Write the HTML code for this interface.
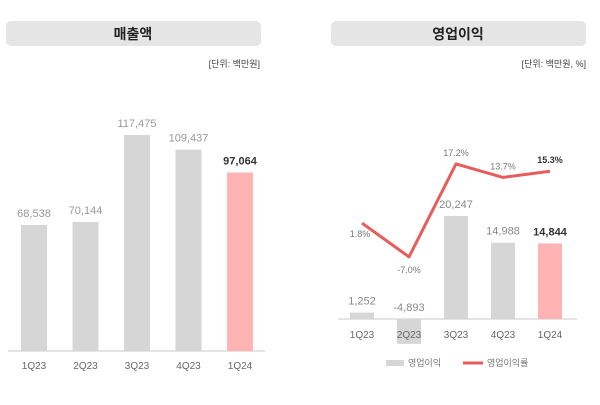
<!DOCTYPE html>
<html><head><meta charset="utf-8">
<style>
body{margin:0;width:600px;height:400px;background:#fff;overflow:hidden;font-family:"Liberation Sans","Noto Sans CJK KR",sans-serif;}
svg text{font-family:"Liberation Sans","Noto Sans CJK KR",sans-serif;}
</style></head><body>
<svg id="c" width="600" height="400" xmlns="http://www.w3.org/2000/svg">
<rect x="6" y="21" width="255" height="25" rx="5" fill="#e5e5e5"/>
<text x="133" y="39" text-anchor="middle" font-size="14" font-weight="bold" fill="#222">매출액</text>
<text x="260" y="67" text-anchor="end" font-size="9" fill="#444">[단위: 백만원]</text>
<rect x="331" y="21" width="255" height="25" rx="5" fill="#e5e5e5"/>
<text x="458" y="39" text-anchor="middle" font-size="14" font-weight="bold" fill="#222">영업이익</text>
<text x="586" y="67" text-anchor="end" font-size="9" fill="#444">[단위: 백만원, %]</text>
<line x1="8" y1="351" x2="265" y2="351" stroke="#c8c8c8" stroke-width="1"/>
<line x1="338" y1="319" x2="577" y2="319" stroke="#c8c8c8" stroke-width="1"/>
<rect x="386" y="360" width="18" height="6" fill="#d6d6d6"/>
<text x="408" y="366" font-size="9" fill="#777">영업이익</text>
<line x1="463" y1="363" x2="483" y2="363" stroke="#e85c5c" stroke-width="3"/>
<text x="487" y="366" font-size="9" fill="#777">영업이익률</text>
</svg>
<script>
const categories=["1Q23","2Q23","3Q23","4Q23","1Q24"];
const revenue=[68538,70144,117475,109437,97064];
const opProfit=[1252,-4893,20247,14988,14844];
const opMargin=[1.8,-7.0,17.2,13.7,15.3];
const svg=document.getElementById('c');
const NS="http://www.w3.org/2000/svg";
function mk(t,a){const e=document.createElementNS(NS,t);for(const k in a)e.setAttribute(k,a[k]);svg.appendChild(e);return e;}
function fmt(v){return v.toLocaleString('en-US');}
const lx=i=>34+i*51.5, ly=v=>351-v*0.001839;
const rx=i=>362+i*47, ry=v=>319-v*0.00509, my=p=>230-p*3.84;
categories.forEach((c,i)=>{
  const last=i===categories.length-1;
  const b=mk('rect',{x:lx(i)-13,y:ly(revenue[i]),width:26,height:351-ly(revenue[i]),fill:last?'#ffb3b3':'#d6d6d6'});
  
  
  const t=mk('text',{x:lx(i),y:ly(revenue[i])-8,'text-anchor':'middle','font-size':'11',fill:last?'#333':'#999','font-weight':last?'bold':'normal'});
  t.textContent=fmt(revenue[i]);
  
  
  const l=mk('text',{x:lx(i),y:369,'text-anchor':'middle','font-size':'10',fill:'#666'});
  l.textContent=c;
  
  
  const v=opProfit[i];
  const y0=Math.min(ry(v),319), h=Math.abs(ry(v)-319);
  const rb=mk('rect',{x:rx(i)-12,y:y0,width:24,height:h,fill:last?'#ffb3b3':'#d6d6d6'});
  
  
  const rt=mk('text',{x:rx(i),y:(v>=0?ry(v):319)-8,'text-anchor':'middle','font-size':'11',fill:last?'#333':'#888','font-weight':last?'bold':'normal'});
  rt.textContent=fmt(v);
  
  
  const rl=mk('text',{x:rx(i),y:338,'text-anchor':'middle','font-size':'10',fill:'#666'});
  rl.textContent=c;
  
  
});
const pts=opMargin.map((p,i)=>rx(i)+','+my(p)).join(' ');
const pl=mk('polyline',{points:pts,fill:'none',stroke:'#e85c5c','stroke-width':3,'stroke-linejoin':'round'});


opMargin.forEach((p,i)=>{
  const last=i===opMargin.length-1;
  const dy=(i===0)?14:(i===1)?16:-8;
  const dx=(i===0)?-2:0;
  const t=mk('text',{x:rx(i)+dx,y:my(p)+dy,'text-anchor':'middle','font-size':'9',fill:last?'#333':'#777','font-weight':last?'bold':'normal'});
  t.textContent=p.toFixed(1)+'%';
  
  
});
</script>
</body></html>
